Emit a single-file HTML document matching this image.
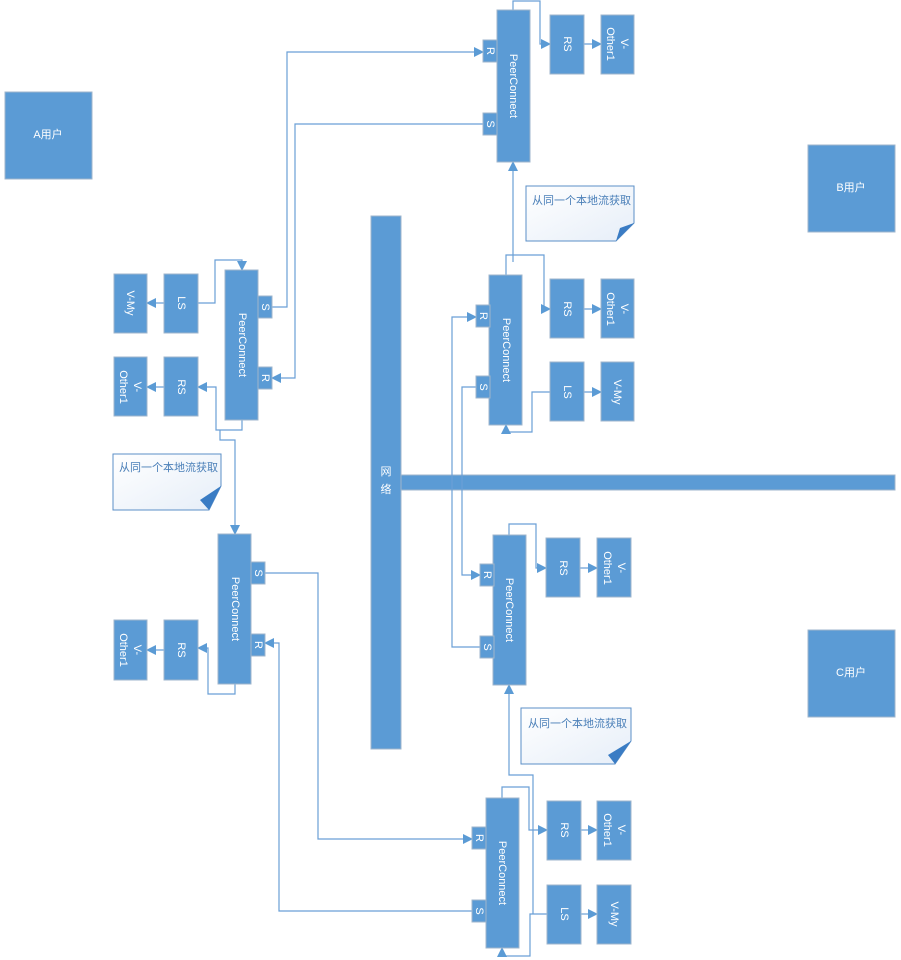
<!DOCTYPE html>
<html><head><meta charset="utf-8"><style>
html,body{margin:0;padding:0;background:#fff;}
svg{display:block;font-family:"Liberation Sans","Noto Sans CJK SC",sans-serif;}
.b{fill:#5b9bd5;stroke:#9fb6cc;stroke-width:1}
.t{fill:#fff;font-size:11px;text-anchor:middle;dominant-baseline:central}
.l{fill:none;stroke:#6a9fd6;stroke-width:1.2}
.n{fill:url(#g);stroke:#5b8fc7;stroke-width:1}
.nt{fill:#4a7fb8;font-size:11px}
</style></head><body>
<svg width="901" height="960" viewBox="0 0 901 960">
<defs>
<marker id="a" markerWidth="10" markerHeight="10" refX="9" refY="5" orient="auto" markerUnits="userSpaceOnUse"><path d="M0,0 L10,5 L0,10 z" fill="#5b9bd5"/></marker>
<linearGradient id="g" x1="0" y1="0" x2="1" y2="1"><stop offset="0" stop-color="#ffffff"/><stop offset="1" stop-color="#e6eef8"/></linearGradient>
</defs>

<!-- users -->
<rect class="b" x="5" y="92" width="87" height="87"/><text class="t" x="48" y="135">A用户</text>
<rect class="b" x="808" y="145" width="87" height="87"/><text class="t" x="851" y="188">B用户</text>
<rect class="b" x="808" y="630" width="87" height="87"/><text class="t" x="851" y="673">C用户</text>

<!-- network -->
<rect x="371" y="216" width="30" height="533" fill="#5b9bd5" stroke="#9fb6cc"/>
<rect x="401" y="475" width="494" height="15" fill="#5b9bd5" stroke="#9fb6cc"/>
<text class="t" x="386" y="472">网</text><text class="t" x="386" y="490">络</text>

<!-- connectors -->
<g class="l">
<!-- A S -> top R -->
<path d="M272,307 H287 V52 H483" marker-end="url(#a)"/>
<!-- top S -> A R -->
<path d="M483,124 H295 V378 H272" marker-end="url(#a)"/>
<!-- A LS -> A PC -->
<path d="M198,303 H215 V260 H242 V270" marker-end="url(#a)"/>
<!-- A PC -> RS -->
<path d="M242,420 V430 H216 V387 H198" marker-end="url(#a)"/>
<!-- A local -> lower-left PC -->
<path d="M220,430 V440 H235 V534" marker-end="url(#a)"/>
<!-- lower-left PC -> RS -->
<path d="M235,684 V694 H208 V648 H198" marker-end="url(#a)"/>
<!-- lower-left S -> bottom R -->
<path d="M265,573 H318 V839 H472" marker-end="url(#a)"/>
<!-- bottom S -> lower-left R -->
<path d="M472,911 H279 V643 H265" marker-end="url(#a)"/>
<!-- top PC -> RS -->
<path d="M513,10 V1 H540 V44 H550" marker-end="url(#a)"/>
<path d="M584,44 H601" marker-end="url(#a)"/>
<!-- mid local -> top PC -->
<path d="M513,262 V162" marker-end="url(#a)"/>
<!-- mid PC -> RS -->
<path d="M506,275 V255 H544 V309 H550" marker-end="url(#a)"/>
<path d="M584,309 H601" marker-end="url(#a)"/>
<path d="M584,392 H601" marker-end="url(#a)"/>
<!-- mid LS -> mid PC -->
<path d="M550,392 H532 V432 H506 V425" marker-end="url(#a)"/>
<!-- lower-right S -> mid R -->
<path d="M480,647 H452 V317 H476" marker-end="url(#a)"/>
<!-- mid S -> lower-right R -->
<path d="M476,387 H462 V575 H480" marker-end="url(#a)"/>
<!-- lower-right PC -> RS -->
<path d="M509,535 V524 H536 V568 H546" marker-end="url(#a)"/>
<path d="M580,568 H597" marker-end="url(#a)"/>
<!-- bottom local -> lower-right PC -->
<path d="M533,914 V775 H509 V685" marker-end="url(#a)"/>
<!-- bottom PC -> RS -->
<path d="M502,798 V787 H529 V830 H547" marker-end="url(#a)"/>
<path d="M581,830 H597" marker-end="url(#a)"/>
<path d="M581,914 H597" marker-end="url(#a)"/>
<path d="M547,914 H530 V956 H502 V948" marker-end="url(#a)"/>
<!-- A side -->
<path d="M164,303 H147" marker-end="url(#a)"/>
<path d="M164,387 H147" marker-end="url(#a)"/>
<path d="M164,650 H147" marker-end="url(#a)"/>
</g>

<!-- Peer connects -->
<g>
<rect class="b" x="497" y="10" width="33" height="152"/><text class="t" transform="translate(513,86) rotate(90)">PeerConnect</text>
<rect class="b" x="483" y="40" width="14" height="22"/><text class="t" transform="translate(490,51) rotate(90)">R</text>
<rect class="b" x="483" y="113" width="14" height="22"/><text class="t" transform="translate(490,124) rotate(90)">S</text>

<rect class="b" x="489" y="275" width="33" height="150"/><text class="t" transform="translate(506,350) rotate(90)">PeerConnect</text>
<rect class="b" x="476" y="305" width="14" height="22"/><text class="t" transform="translate(483,316) rotate(90)">R</text>
<rect class="b" x="476" y="376" width="14" height="22"/><text class="t" transform="translate(483,387) rotate(90)">S</text>

<rect class="b" x="493" y="535" width="33" height="150"/><text class="t" transform="translate(509,610) rotate(90)">PeerConnect</text>
<rect class="b" x="480" y="564" width="14" height="22"/><text class="t" transform="translate(487,575) rotate(90)">R</text>
<rect class="b" x="480" y="636" width="14" height="22"/><text class="t" transform="translate(487,647) rotate(90)">S</text>

<rect class="b" x="486" y="798" width="33" height="150"/><text class="t" transform="translate(502,873) rotate(90)">PeerConnect</text>
<rect class="b" x="472" y="827" width="14" height="22"/><text class="t" transform="translate(479,838) rotate(90)">R</text>
<rect class="b" x="472" y="900" width="14" height="22"/><text class="t" transform="translate(479,911) rotate(90)">S</text>

<rect class="b" x="225" y="270" width="33" height="150"/><text class="t" transform="translate(242,345) rotate(90)">PeerConnect</text>
<rect class="b" x="258" y="296" width="14" height="22"/><text class="t" transform="translate(265,307) rotate(90)">S</text>
<rect class="b" x="258" y="367" width="14" height="22"/><text class="t" transform="translate(265,378) rotate(90)">R</text>

<rect class="b" x="218" y="534" width="33" height="150"/><text class="t" transform="translate(235,609) rotate(90)">PeerConnect</text>
<rect class="b" x="251" y="562" width="14" height="22"/><text class="t" transform="translate(258,573) rotate(90)">S</text>
<rect class="b" x="251" y="634" width="14" height="22"/><text class="t" transform="translate(258,645) rotate(90)">R</text>
</g>

<!-- small boxes -->
<g>
<rect class="b" x="550" y="15" width="34" height="59"/><text class="t" transform="translate(567,44) rotate(90)">RS</text>
<rect class="b" x="601" y="15" width="33" height="59"/><text class="t" transform="translate(617,44) rotate(90)"><tspan x="0" dy="-7">V-</tspan><tspan x="0" dy="14">Other1</tspan></text>

<rect class="b" x="550" y="279" width="34" height="59"/><text class="t" transform="translate(567,309) rotate(90)">RS</text>
<rect class="b" x="601" y="279" width="33" height="59"/><text class="t" transform="translate(617,309) rotate(90)"><tspan x="0" dy="-7">V-</tspan><tspan x="0" dy="14">Other1</tspan></text>
<rect class="b" x="550" y="362" width="34" height="59"/><text class="t" transform="translate(567,392) rotate(90)">LS</text>
<rect class="b" x="601" y="362" width="33" height="59"/><text class="t" transform="translate(617,392) rotate(90)">V-My</text>

<rect class="b" x="546" y="538" width="34" height="59"/><text class="t" transform="translate(563,568) rotate(90)">RS</text>
<rect class="b" x="597" y="538" width="34" height="59"/><text class="t" transform="translate(614,568) rotate(90)"><tspan x="0" dy="-7">V-</tspan><tspan x="0" dy="14">Other1</tspan></text>

<rect class="b" x="547" y="801" width="34" height="59"/><text class="t" transform="translate(564,830) rotate(90)">RS</text>
<rect class="b" x="597" y="801" width="34" height="59"/><text class="t" transform="translate(614,830) rotate(90)"><tspan x="0" dy="-7">V-</tspan><tspan x="0" dy="14">Other1</tspan></text>
<rect class="b" x="547" y="885" width="34" height="59"/><text class="t" transform="translate(564,914) rotate(90)">LS</text>
<rect class="b" x="597" y="885" width="34" height="59"/><text class="t" transform="translate(614,914) rotate(90)">V-My</text>

<rect class="b" x="164" y="274" width="34" height="59"/><text class="t" transform="translate(181,303) rotate(90)">LS</text>
<rect class="b" x="114" y="274" width="33" height="59"/><text class="t" transform="translate(130,303) rotate(90)">V-My</text>
<rect class="b" x="164" y="357" width="34" height="59"/><text class="t" transform="translate(181,387) rotate(90)">RS</text>
<rect class="b" x="114" y="357" width="33" height="59"/><text class="t" transform="translate(130,387) rotate(90)"><tspan x="0" dy="-7">V-</tspan><tspan x="0" dy="14">Other1</tspan></text>

<rect class="b" x="164" y="620" width="34" height="60"/><text class="t" transform="translate(181,650) rotate(90)">RS</text>
<rect class="b" x="114" y="620" width="33" height="60"/><text class="t" transform="translate(130,650) rotate(90)"><tspan x="0" dy="-7">V-</tspan><tspan x="0" dy="14">Other1</tspan></text>
</g>

<!-- notes -->
<g>
<path class="n" d="M526,186 H634 V223 L616,241 H526 Z"/><path d="M634,223 L616,241 L620,228 Z" fill="#3a7cc4"/>
<text class="nt" x="532" y="204">从同一个本地流获取</text>
<path class="n" d="M113,454 H221 V486 L209,510 H113 Z"/><path d="M221,486 L209,510 L200,500 Z" fill="#3a7cc4"/>
<text class="nt" x="119" y="471">从同一个本地流获取</text>
<path class="n" d="M521,708 H631 V741 L615,764 H521 Z"/><path d="M631,741 L615,764 L608,755 Z" fill="#3a7cc4"/>
<text class="nt" x="528" y="727">从同一个本地流获取</text>
</g>
</svg>
</body></html>
